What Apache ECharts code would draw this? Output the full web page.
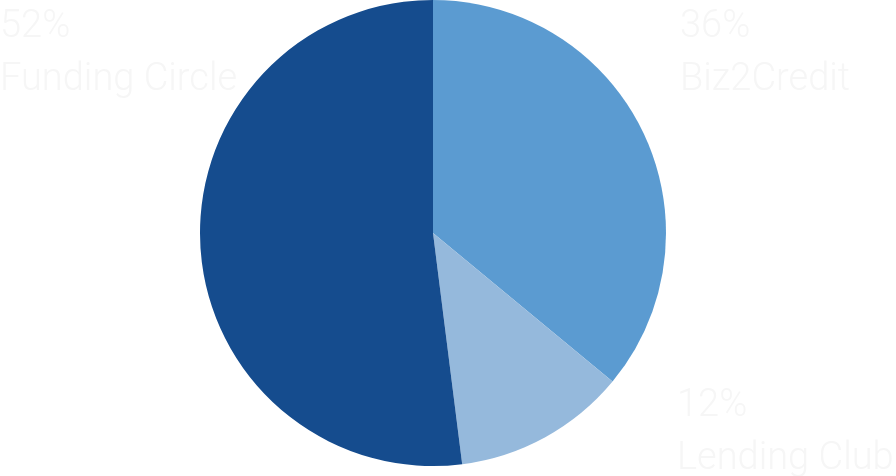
<!DOCTYPE html>
<html><head><meta charset="utf-8">
<script src="https://cdn.jsdelivr.net/npm/echarts@6/dist/echarts.min.js"></script>
<style>html,body{margin:0;padding:0;background:#fff}#c{width:896px;height:476px}</style>
</head><body><div id="c"></div>
<script>
const categories = ['Biz2Credit', 'Lending Club', 'Funding Circle'];
const values = [36, 12, 52];
const colors = ['#5b9bd1', '#95b9dc', '#154c8e'];
const labelSpots = [[680, 1], [677, 380], [0, 1]];

const chart = echarts.init(document.getElementById('c'));
chart.setOption({
  animation: false,
  series: [{
    type: 'pie',
    center: [433, 233],
    radius: [0, 233],
    startAngle: 90,
    clockwise: true,
    data: categories.map((c, i) => ({ name: c, value: values[i], itemStyle: { color: colors[i] } })),
    label: {
      show: true,
      overflow: 'none',
      formatter: p => '{p|' + p.value + '%}\n{n|' + p.name + '}',
      rich: {
        p: { fontFamily: 'Roboto', fontWeight: 300, fontSize: 38, color: '#f6f6f6', lineHeight: 53 },
        n: { fontFamily: 'Roboto', fontWeight: 300, fontSize: 38, color: '#f6f6f6', lineHeight: 53 }
      }
    },
    labelLine: { show: false },
    labelLayout: p => ({ x: labelSpots[p.dataIndex][0], y: labelSpots[p.dataIndex][1], align: 'left', verticalAlign: 'top', width: 300 })
  }]
});
</script></body></html>
